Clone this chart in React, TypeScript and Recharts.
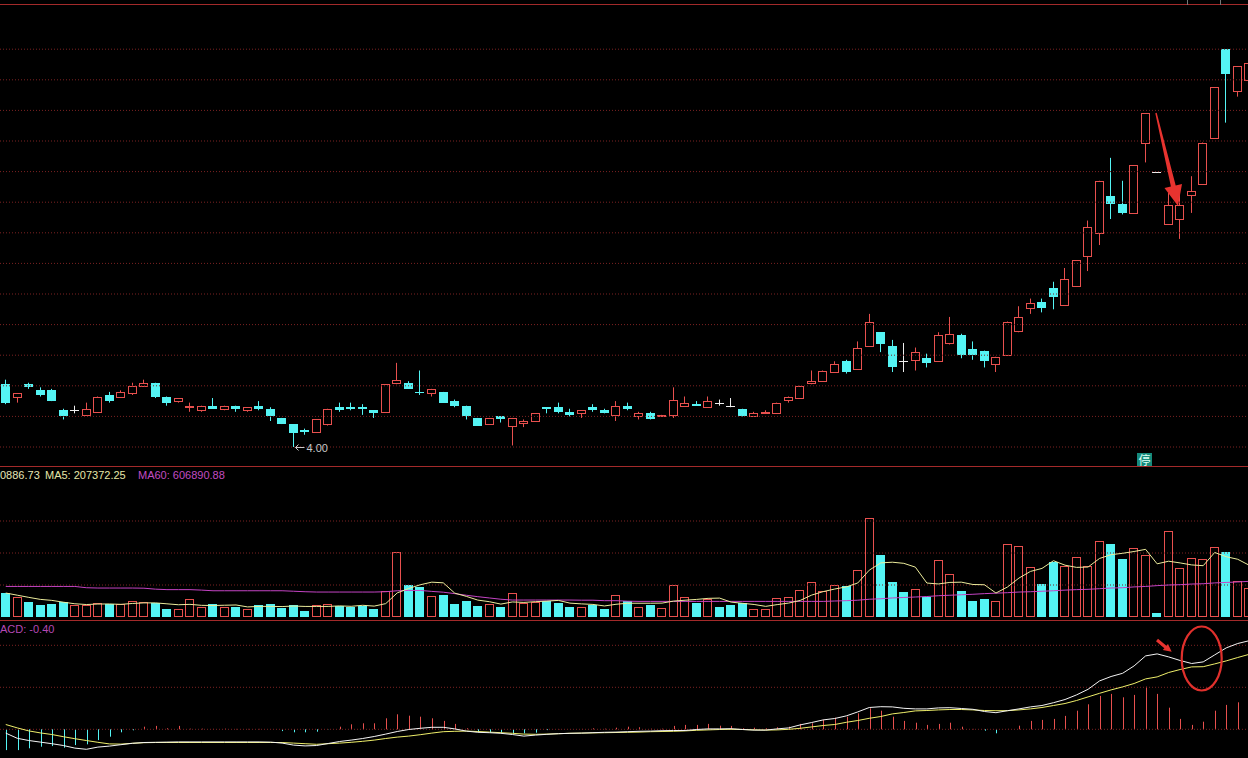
import React from 'react';
import { ComposedChart, Bar, Line, XAxis, YAxis, ReferenceLine, ReferenceDot } from 'recharts';

// ---------- data ----------
const opens = [4.41,4.33,4.41,4.37,4.37,4.24,4.24,4.21,4.23,4.34, 4.33,4.35,4.40,4.42,4.33,4.30,4.26,4.24,4.27,4.25, 4.27,4.24,4.27,4.25,4.19,4.15,4.11,4.10,4.15,4.26, 4.26,4.26,4.24,4.23,4.42,4.42,4.36,4.35,4.36,4.30, 4.27,4.19,4.15,4.20,4.14,4.16,4.17,4.26,4.26,4.23, 4.22,4.26,4.24,4.21,4.27,4.20,4.22,4.20,4.21,4.27, 4.28,4.26,4.29,4.27,4.25,4.20,4.22,4.22,4.31,4.32, 4.42,4.43,4.49,4.56,4.51,4.66,4.75,4.66,4.56,4.57, 4.58,4.56,4.68,4.73,4.64,4.63,4.54,4.60,4.76,4.91, 4.95,5.04,4.93,5.05,5.25,5.40,5.64,5.59,5.53,5.99, 5.80,5.46,5.49,5.65,5.72,6.02,6.60,6.33,6.40];
const highs = [4.44,4.35,4.42,4.39,4.38,4.25,4.27,4.29,4.33,4.36, 4.37,4.42,4.44,4.42,4.33,4.32,4.29,4.27,4.32,4.27, 4.27,4.26,4.30,4.26,4.19,4.15,4.12,4.18,4.25,4.29, 4.29,4.28,4.24,4.41,4.55,4.43,4.50,4.38,4.36,4.31, 4.27,4.19,4.19,4.20,4.19,4.18,4.22,4.26,4.29,4.25, 4.24,4.28,4.25,4.30,4.29,4.23,4.23,4.21,4.39,4.33, 4.30,4.33,4.31,4.32,4.25,4.23,4.24,4.29,4.33,4.40, 4.50,4.50,4.56,4.57,4.69,4.87,4.75,4.70,4.68,4.65, 4.61,4.75,4.85,4.74,4.69,4.63,4.59,4.82,4.92,4.97, 4.97,5.08,5.17,5.22,5.48,5.74,5.89,5.74,5.84,6.18, 5.80,5.66,5.66,5.77,5.99,6.35,6.60,6.49,6.52];
const lows = [4.28,4.29,4.38,4.33,4.30,4.18,4.22,4.21,4.23,4.29, 4.33,4.34,4.40,4.32,4.27,4.29,4.23,4.23,4.25,4.24, 4.23,4.23,4.24,4.17,4.15,4.00,4.08,4.10,4.14,4.23, 4.24,4.21,4.19,4.23,4.41,4.38,4.34,4.33,4.29,4.26, 4.18,4.14,4.15,4.16,4.01,4.13,4.17,4.22,4.22,4.20, 4.19,4.23,4.22,4.17,4.24,4.18,4.18,4.20,4.19,4.27, 4.27,4.26,4.27,4.26,4.20,4.20,4.22,4.22,4.29,4.32, 4.41,4.43,4.49,4.48,4.51,4.66,4.62,4.49,4.49,4.50, 4.52,4.56,4.67,4.58,4.57,4.52,4.49,4.60,4.75,4.87, 4.88,4.90,4.93,5.05,5.15,5.32,5.49,5.52,5.53,5.86, 5.80,5.46,5.36,5.53,5.72,6.02,6.12,6.29,6.38];
const closes = [4.29,4.35,4.39,4.34,4.30,4.20,4.24,4.25,4.33,4.30, 4.36,4.40,4.42,4.33,4.29,4.32,4.27,4.27,4.25,4.27, 4.25,4.26,4.25,4.20,4.15,4.09,4.10,4.18,4.25,4.24, 4.25,4.25,4.22,4.41,4.44,4.38,4.35,4.38,4.29,4.27, 4.20,4.14,4.19,4.18,4.19,4.17,4.22,4.25,4.23,4.21, 4.24,4.24,4.22,4.27,4.25,4.22,4.18,4.21,4.31,4.29, 4.27,4.30,4.29,4.27,4.20,4.22,4.23,4.29,4.33,4.40, 4.43,4.50,4.54,4.49,4.65,4.82,4.67,4.52,4.56,4.62, 4.55,4.73,4.74,4.60,4.60,4.56,4.59,4.82,4.85,4.94, 4.91,4.98,5.10,5.22,5.44,5.74,5.59,5.53,5.84,6.18, 5.80,5.58,5.58,5.67,5.99,6.35,6.44,6.49,6.51];
const volumes = [150000,122500,95600,72500,78800,93800,72500,72500,87500,81300, 81300,100000,91300,87500,51900,51900,112500,60000,83100,60000, 60000,51900,76900,83100,53800,76900,39400,76900,83100,70600, 64400,70600,51900,160000,406300,201900,187500,133100,139400,83100, 101900,70600,83100,64400,150000,87500,93800,100000,87500,64400, 64400,76900,51900,139400,97500,64400,76900,56300,201900,125000, 89400,110000,64400,76900,87500,51900,51900,118800,125000,170600, 218800,160000,200000,191300,293800,618800,387500,220600,156300,175000, 122500,358100,268800,164400,101900,114400,100000,456300,443800,310000, 208100,341300,316300,375000,320600,476900,458100,360000,431300,387500, 25000,539400,306300,368800,364400,437500,408100,225000,181300];
const volMA60 = [191000,191000,191000,191000,191000,191000,191000,183000,181000,181000, 181000,181000,180000,174000,171000,171000,171000,168000,164000,164000, 164000,164000,164000,164000,164000,161000,158000,156000,156000,156000, 156000,156000,156000,158000,164000,166000,166000,160000,155000,146000, 136000,127000,119000,111000,106000,106000,106000,106000,106000,106000, 105000,105000,102000,102000,99000,97500,97500,97500,97500,97500, 97500,97500,97500,97500,97500,97500,97500,97500,97500,97500, 97500,97500,100000,102000,105000,111000,114000,119000,122000,125000, 128000,133000,136000,139000,142000,146000,149000,152000,156000,158000, 161000,164000,168000,171000,173000,177000,181000,183000,188000,191000, 196000,200000,202000,206000,208000,213000,216000,219000,223000];
const difs = [-0.019,-0.045,-0.056,-0.064,-0.072,-0.081,-0.094,-0.100,-0.089,-0.084, -0.077,-0.070,-0.066,-0.065,-0.064,-0.063,-0.063,-0.063,-0.063,-0.063, -0.063,-0.063,-0.063,-0.064,-0.069,-0.079,-0.083,-0.081,-0.071,-0.061, -0.054,-0.046,-0.036,-0.024,-0.011,-0.001,0.005,0.010,0.010,0.002, -0.009,-0.015,-0.017,-0.020,-0.026,-0.034,-0.029,-0.025,-0.022,-0.020, -0.019,-0.017,-0.015,-0.014,-0.012,-0.010,-0.009,-0.007,-0.006,-0.006, -0.001,0.002,0.002,0.003,-0.001,-0.004,-0.004,0.002,0.007,0.022, 0.034,0.047,0.054,0.067,0.087,0.109,0.113,0.112,0.105,0.102, 0.102,0.107,0.108,0.104,0.100,0.089,0.083,0.093,0.102,0.112, 0.119,0.133,0.149,0.172,0.200,0.242,0.264,0.280,0.317,0.367, 0.377,0.362,0.344,0.329,0.337,0.372,0.407,0.429,0.443];
const deas = [0.024,0.007,-0.008,-0.018,-0.026,-0.037,-0.047,-0.056,-0.065,-0.073, -0.074,-0.070,-0.067,-0.066,-0.066,-0.066,-0.066,-0.066,-0.066,-0.066, -0.066,-0.066,-0.066,-0.066,-0.066,-0.069,-0.072,-0.075,-0.072,-0.069, -0.065,-0.060,-0.054,-0.046,-0.039,-0.034,-0.027,-0.019,-0.012,-0.010, -0.009,-0.011,-0.014,-0.017,-0.020,-0.024,-0.025,-0.024,-0.022,-0.020, -0.019,-0.018,-0.017,-0.016,-0.015,-0.014,-0.012,-0.011,-0.010,-0.008, -0.005,-0.003,-0.001,0.000,-0.001,-0.003,-0.004,-0.003,0.000,0.005, 0.012,0.019,0.024,0.035,0.044,0.055,0.064,0.077,0.084,0.092, 0.094,0.097,0.099,0.099,0.097,0.094,0.093,0.093,0.097,0.102, 0.109,0.119,0.129,0.144,0.162,0.180,0.197,0.212,0.229,0.252, 0.262,0.284,0.299,0.312,0.313,0.327,0.342,0.359,0.375];
const macdHist = [-0.104,-0.104,-0.095,-0.087,-0.084,-0.092,-0.079,-0.075,-0.054,-0.037, -0.015,-0.005,0.013,0.017,0.005,0.017,0.003,0.003,0.002,0.003, 0.002,0.002,0.002,0.000,-0.009,-0.015,-0.015,-0.012,-0.001,0.013, 0.025,0.030,0.030,0.055,0.075,0.068,0.063,0.055,0.042,0.027, 0.005,-0.012,-0.015,-0.017,-0.020,-0.020,-0.017,-0.004,0.001,0.001, 0.002,0.005,0.003,0.008,0.013,0.010,0.003,0.003,0.017,0.022, 0.022,0.027,0.018,0.017,0.005,0.008,0.005,0.010,0.013,0.027, 0.030,0.048,0.058,0.063,0.080,0.105,0.093,0.063,0.042,0.033, 0.022,0.027,0.033,0.013,0.002,-0.007,-0.020,0.002,0.018,0.042, 0.047,0.052,0.067,0.093,0.125,0.167,0.177,0.160,0.172,0.213, 0.177,0.108,0.052,0.022,0.038,0.093,0.122,0.135,0.140];
// doji days whose volume bar is drawn as a down day (1-based)
const dojiVolDown = [63, 64, 79, 101];
const priceTicks = [4.0, 4.2, 4.4, 4.6, 4.8, 5.0, 5.2, 5.4, 5.6, 5.8, 6.0, 6.2, 6.4, 6.6];
const volTicks = [200000, 400000, 600000];
const macdTicks = [0, 0.21, 0.42];

// ---------- layout ----------
const CHART_W = 1255;
const PRICE_TOP = 0, PRICE_H = 467, PRICE_REF_Y = 447, PRICE_REF = 4.0, PRICE_PX = 153;
const VOL_TOP = 467, VOL_H = 150, VOL_PER_PX = 6250;
const MACD_TOP = 621, MACD_H = 137, MACD_ZERO_Y = 729.3, MACD_PER_PX = 0.005;
const priceDomain = [PRICE_REF - (PRICE_TOP + PRICE_H - PRICE_REF_Y) / PRICE_PX, PRICE_REF + (PRICE_REF_Y - PRICE_TOP) / PRICE_PX];
const volDomain = [0, VOL_H * VOL_PER_PX];
const macdDomain = [-(MACD_TOP + MACD_H - MACD_ZERO_Y) * MACD_PER_PX, (MACD_ZERO_Y - MACD_TOP) * MACD_PER_PX];

const UP = '#e8504e';
const DOWN = '#54f4f4';
const DOJI = '#eeeeee';
const GRID = '#7c2222';
const SEP = '#a32a2a';

const data = opens.map((o, i) => {
  const c = closes[i];
  const win = volumes.slice(Math.max(0, i - 4), i + 1);
  const ma5 = win.reduce((a, b) => a + b, 0) / win.length;
  const volUp = c > o ? true : c < o ? false : !dojiVolDown.includes(i + 1);
  return {
    day: 'D' + (i + 1), open: o, high: highs[i], low: lows[i], close: c,
    range: [lows[i], highs[i]], vol: volumes[i], volUp, ma5, ma60: volMA60[i],
    dif: difs[i], dea: deas[i], macd: macdHist[i],
  };
});

const minLow = Math.min(...lows);
const lowDay = data[lows.indexOf(minLow)].day;

function CandleShape(props: any) {
  const { x, y, width, height, payload } = props;
  if (x == null || payload == null) return null;
  const { open, close, high, low } = payload;
  const top0 = Math.min(y, y + height);
  const h = Math.abs(height);
  const span = high - low;
  const py = (v: number) => (span > 0 ? top0 + ((high - v) / span) * h : top0);
  const bx = Math.round(x);
  const cx = bx + Math.floor(width / 2) + 0.5;
  const t = Math.round(py(Math.max(open, close)));
  const b = Math.round(py(Math.min(open, close)));
  if (close > open) {
    return (
      <g>
        <line x1={cx} x2={cx} y1={top0} y2={t} stroke={UP} strokeWidth={1} />
        <line x1={cx} x2={cx} y1={b} y2={top0 + h} stroke={UP} strokeWidth={1} />
        <rect x={bx + 0.5} y={t + 0.5} width={width - 1} height={Math.max(b - t, 1)} fill="#000" stroke={UP} strokeWidth={1} />
      </g>
    );
  }
  if (close < open) {
    return (
      <g>
        <line x1={cx} x2={cx} y1={top0} y2={top0 + h} stroke={DOWN} strokeWidth={1} />
        <rect x={bx} y={t} width={width} height={Math.max(b - t, 1)} fill={DOWN} />
      </g>
    );
  }
  return (
    <g>
      <line x1={cx} x2={cx} y1={top0} y2={top0 + h} stroke={DOJI} strokeWidth={1} />
      <line x1={bx} x2={bx + width} y1={t + 0.5} y2={t + 0.5} stroke={DOJI} strokeWidth={1} />
    </g>
  );
}

function VolShape(props: any) {
  const { x, y, width, height, payload } = props;
  if (x == null || payload == null) return null;
  const bx = Math.round(x);
  const t = Math.round(Math.min(y, y + height));
  const b = Math.round(Math.max(y, y + height));
  if (payload.volUp) {
    return <rect x={bx + 0.5} y={t + 0.5} width={width - 1} height={Math.max(b - t - 1, 1)} fill="none" stroke={UP} strokeWidth={1} />;
  }
  return <rect x={bx} y={t} width={width} height={Math.max(b - t, 1)} fill={DOWN} />;
}

function MacdShape(props: any) {
  const { x, y, width, height, payload } = props;
  if (x == null || payload == null) return null;
  const cx = Math.round(x + width / 2) + 0.5;
  return <line x1={cx} x2={cx} y1={y} y2={y + height} stroke={payload.macd >= 0 ? UP : DOWN} strokeWidth={1} />;
}

function LowLabel(props: any) {
  const { cx, cy } = props;
  if (cx == null) return null;
  const x0 = Math.round(cx) + 0.5;
  const yy = Math.round(cy) + 0.5;
  return (
    <g>
      <path d={`M${x0 + 1},${yy} L${x0 + 10},${yy} M${x0 + 1},${yy} L${x0 + 4},${yy - 3} M${x0 + 1},${yy} L${x0 + 4},${yy + 3}`} stroke="#c8c8c8" strokeWidth={1} fill="none" />
      <text x={x0 + 12} y={yy + 4.5} fill="#c8c8c8" fontSize={11} fontFamily="'Liberation Sans', Arial, sans-serif">{minLow.toFixed(2)}</text>
    </g>
  );
}

const abs = (top: number, h: number): React.CSSProperties => ({ position: 'absolute', left: 0, top, width: CHART_W, height: h });
const M = { top: 0, right: 0, bottom: 0, left: 0 };

export default function App() {
  return (
    <div style={{ position: 'absolute', left: 0, top: 0, width: 1248, height: 758, background: '#000', overflow: 'hidden', fontFamily: "'Liberation Sans', Arial, sans-serif" }}>
      {/* price panel */}
      <div style={abs(PRICE_TOP, PRICE_H)}>
        <ComposedChart width={CHART_W} height={PRICE_H} data={data} margin={M}>
          <XAxis dataKey="day" hide />
          <YAxis hide domain={priceDomain} allowDataOverflow />
          {priceTicks.map((v) => (
            <ReferenceLine key={v} y={v} stroke={GRID} strokeDasharray="1 2" />
          ))}
          <Bar dataKey="range" barSize={9} shape={(p: any) => <CandleShape {...p} />} isAnimationActive={false} />
          <ReferenceDot x={lowDay} y={minLow} r={0} ifOverflow="visible" shape={(p: any) => <LowLabel {...p} />} />
        </ComposedChart>
      </div>

      {/* volume panel */}
      <div style={abs(VOL_TOP, VOL_H)}>
        <ComposedChart width={CHART_W} height={VOL_H} data={data} margin={M}>
          <XAxis dataKey="day" hide />
          <YAxis hide domain={volDomain} allowDataOverflow />
          {volTicks.map((v) => (
            <ReferenceLine key={v} y={v} stroke={GRID} strokeDasharray="1 2" />
          ))}
          <Bar dataKey="vol" barSize={9} shape={(p: any) => <VolShape {...p} />} isAnimationActive={false} />
          <Line dataKey="ma60" stroke="#c444c4" strokeWidth={1} dot={false} isAnimationActive={false} type="linear" />
          <Line dataKey="ma5" stroke="#ecec9c" strokeWidth={1} dot={false} isAnimationActive={false} type="linear" />
        </ComposedChart>
      </div>

      {/* MACD panel */}
      <div style={abs(MACD_TOP, MACD_H)}>
        <ComposedChart width={CHART_W} height={MACD_H} data={data} margin={M}>
          <XAxis dataKey="day" hide />
          <YAxis hide domain={macdDomain} allowDataOverflow />
          {macdTicks.map((v) => (
            <ReferenceLine key={v} y={v} stroke={GRID} strokeDasharray="1 2" />
          ))}
          <Bar dataKey="macd" barSize={2} shape={(p: any) => <MacdShape {...p} />} isAnimationActive={false} />
          <Line dataKey="dea" stroke="#eeee6a" strokeWidth={1} dot={false} isAnimationActive={false} type="linear" />
          <Line dataKey="dif" stroke="#f4f4f4" strokeWidth={1} dot={false} isAnimationActive={false} type="linear" />
        </ComposedChart>
      </div>

      {/* panel borders */}
      <div style={{ position: 'absolute', left: 0, top: 4, width: 1248, height: 1, background: SEP }} />
      <div style={{ position: 'absolute', left: 1187, top: 0, width: 1, height: 5, background: '#777' }} />
      <div style={{ position: 'absolute', left: 1220, top: 0, width: 1, height: 5, background: '#777' }} />
      <div style={{ position: 'absolute', left: 0, top: 466, width: 1248, height: 1, background: SEP }} />
      <div style={{ position: 'absolute', left: 0, top: 620, width: 1248, height: 1, background: SEP }} />

      {/* headers */}
      <div style={{ position: 'absolute', left: 0, top: 469, fontSize: 11, lineHeight: '12px', color: '#e6e6b8', whiteSpace: 'nowrap' }}>0886.73</div>
      <div style={{ position: 'absolute', left: 45, top: 469, fontSize: 11, lineHeight: '12px', color: '#e6e6a8', whiteSpace: 'nowrap' }}>MA5: 207372.25</div>
      <div style={{ position: 'absolute', left: 138, top: 469, fontSize: 11, lineHeight: '12px', color: '#c24cc2', whiteSpace: 'nowrap' }}>MA60: 606890.88</div>
      <div style={{ position: 'absolute', left: 0, top: 623, fontSize: 11, lineHeight: '12px', color: '#b448b4', whiteSpace: 'nowrap' }}>ACD: -0.40</div>

      {/* 停 marker */}
      <div style={{ position: 'absolute', left: 1137, top: 453, width: 15, height: 13, background: '#158a7c', color: '#dafff4', fontSize: 12, lineHeight: '13px', textAlign: 'center', fontFamily: "'Noto Sans CJK SC', sans-serif" }}>停</div>

      {/* annotations */}
      <svg width={1248} height={758} style={{ position: 'absolute', left: 0, top: 0, pointerEvents: 'none' }}>
        <polygon points="1155.3,113.2 1170.9,186.6 1164.5,188.1 1178,206 1182,184 1175.7,185.4 1156.7,112.8" fill="#e8332f" />
        <polygon points="1156,641.2 1164.4,648.2 1162.8,650.1 1171.7,651.7 1168,643.9 1166.4,645.8 1158,638.8" fill="#e8332f" />
        <ellipse cx={1201.7} cy={658.5} rx={20} ry={32} fill="none" stroke="#e0302c" strokeWidth={2.2} />
      </svg>
    </div>
  );
}
